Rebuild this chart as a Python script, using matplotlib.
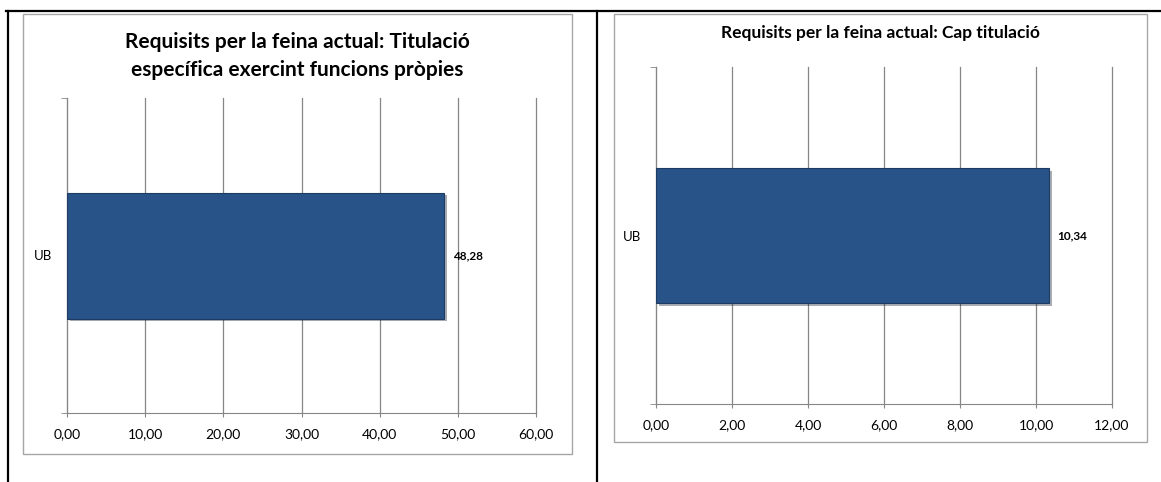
import matplotlib.pyplot as plt
import matplotlib.patheffects as pe
from matplotlib.patches import Rectangle
from matplotlib.lines import Line2D

plt.rcParams['font.family'] = ['Lato', 'DejaVu Sans']

categories = ['UB']
left_values = [48.28]
right_values = [10.34]
left_title = 'Requisits per la feina actual: Titulació\nespecífica exercint funcions pròpies'
right_title = 'Requisits per la feina actual: Cap titulació'
left_ticks = [0, 10, 20, 30, 40, 50, 60]
right_ticks = [0, 2, 4, 6, 8, 10, 12]

W, H = 1161, 482
fig = plt.figure(figsize=(W / 100, H / 100), dpi=100)


def fx(px):
    return px / W


def fy(py):
    return 1 - py / H


# outer black table lines
for line in [((6, W), (11, 11)), ((8, 8), (11, H)), ((597, 597), (11, H))]:
    fig.add_artist(Line2D([fx(line[0][0]), fx(line[0][1])],
                          [fy(line[1][0]), fy(line[1][1])],
                          color='black', lw=1.6))

# gray chart frames
for x0, x1, y0, y1 in [(23, 572, 14, 454), (614, 1147, 14, 442)]:
    fig.add_artist(Rectangle((fx(x0), fy(y1)), fx(x1 - x0), (y1 - y0) / H,
                             fill=False, edgecolor='#a6a6a6', lw=1.0))


def draw(ax, values, ticks, title_txt, title_xy, title_size):
    ax.barh(categories, values, height=0.4, color='#285388',
            edgecolor='#1d3b63', lw=0.8, zorder=3,
            path_effects=[pe.SimplePatchShadow(offset=(2, -2), alpha=0.35),
                          pe.Normal()])
    ax.set_xlim(ticks[0], ticks[-1])
    ax.set_ylim(-0.5, 0.5)
    ax.set_xticks(ticks)
    ax.set_xticklabels([f'{t:.2f}'.replace('.', ',') for t in ticks],
                       fontsize=10)
    ax.tick_params(axis='x', length=3, color='#868686', pad=8)
    ax.set_yticks([0])
    ax.set_yticklabels(categories, fontsize=9.5)
    ax.tick_params(axis='y', length=0, pad=11)
    ax.set_yticks([-0.5, 0.5], minor=True)
    ax.tick_params(axis='y', which='minor', length=4, color='#868686')
    ax.grid(axis='x', color='#868686', lw=0.9, zorder=0, clip_on=False)
    for s in ['top', 'right']:
        ax.spines[s].set_visible(False)
    for s in ['left', 'bottom']:
        ax.spines[s].set_color('#868686')
    for i, v in enumerate(values):
        ax.annotate(f'{v:.2f}'.replace('.', ','), (v, i), xytext=(6, 0),
                    textcoords='offset points', va='center', ha='left',
                    fontsize=8.5, fontweight='bold')
    fig.text(title_xy[0], title_xy[1], title_txt, ha='center', va='center',
             fontsize=title_size, fontweight='bold', linespacing=1.45)


ax1 = fig.add_axes([fx(67), fy(413), fx(536 - 67), (413 - 98) / H])
draw(ax1, left_values, left_ticks, left_title, (fx(297), fy(56)), 15)

ax2 = fig.add_axes([fx(656), fy(404), fx(1112 - 656), (404 - 67) / H])
draw(ax2, right_values, right_ticks, right_title, (fx(880), fy(33)), 12.5)

fig.savefig('out.png', dpi=100)
